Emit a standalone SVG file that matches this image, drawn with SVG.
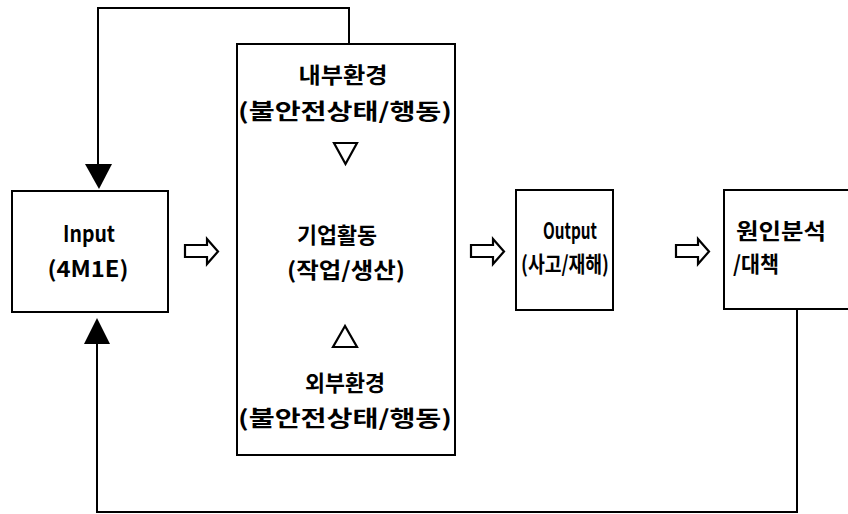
<svg xmlns="http://www.w3.org/2000/svg" width="848" height="514" viewBox="0 0 848 514">
<style>
.box{fill:#fff;stroke:#000;stroke-width:2}
.ln{fill:none;stroke:#000;stroke-width:2}
.ha{fill:#fff;stroke:#000;stroke-width:2.2;stroke-linejoin:miter}
.t{font-family:"Noto Sans CJK KR","Liberation Sans",sans-serif;font-size:22px;font-weight:700;fill:#000;text-anchor:middle}
.tri{fill:#fff;stroke:#000;stroke-width:2.2}
</style>
<g id="connectors">
<path class="ln" d="M349,44 V8 H98 V165"/>
<polygon points="85,164 112,164 99,189" fill="#000"/>
<path class="ln" d="M797,309 V512 H97 V342"/>
<polygon points="84,344 110,344 97,318" fill="#000"/>
<path class="ha" d="M185,245 H207 V239 L218,251.5 L207,264 V257 H185 Z"/>
<path class="ha" d="M471,245 H493 V239 L504,251.5 L493,264 V257 H471 Z"/>
<path class="ha" d="M676,245 H698 V239 L709,251.5 L698,264 V257 H676 Z"/>
</g>
<g id="input">
<rect class="box" x="12" y="191" width="156" height="121"/>
<text class="t" x="89" y="242" textLength="52" lengthAdjust="spacingAndGlyphs">Input</text>
<text class="t" x="88" y="277" textLength="81" lengthAdjust="spacingAndGlyphs">(4M1E)</text>
</g>
<g id="process">
<rect class="box" x="237" y="44" width="218" height="411"/>
<text class="t" x="343" y="83" textLength="89" lengthAdjust="spacingAndGlyphs">내부환경</text>
<text class="t" x="345" y="119" textLength="214" lengthAdjust="spacingAndGlyphs">(불안전상태/행동)</text>
<polygon class="tri" points="334,143 357,143 345.5,164"/>
<text class="t" x="337" y="243" textLength="80" lengthAdjust="spacingAndGlyphs">기업활동</text>
<text class="t" x="346" y="278" textLength="118" lengthAdjust="spacingAndGlyphs">(작업/생산)</text>
<polygon class="tri" points="345,326 333,347 357,347"/>
<text class="t" x="345" y="391" textLength="80" lengthAdjust="spacingAndGlyphs">외부환경</text>
<text class="t" x="345" y="426" textLength="214" lengthAdjust="spacingAndGlyphs">(불안전상태/행동)</text>
</g>
<g id="output">
<rect class="box" x="516" y="190" width="97" height="120"/>
<text class="t" x="570" y="239" textLength="54" lengthAdjust="spacingAndGlyphs">Output</text>
<text class="t" x="565" y="272" textLength="88" lengthAdjust="spacingAndGlyphs">(사고/재해)</text>
</g>
<g id="analysis">
<rect class="box" x="724" y="190" width="130" height="119"/>
<text class="t" x="781" y="239" textLength="90" lengthAdjust="spacingAndGlyphs">원인분석</text>
<text class="t" x="756" y="272" textLength="46" lengthAdjust="spacingAndGlyphs">/대책</text>
</g>
</svg>
